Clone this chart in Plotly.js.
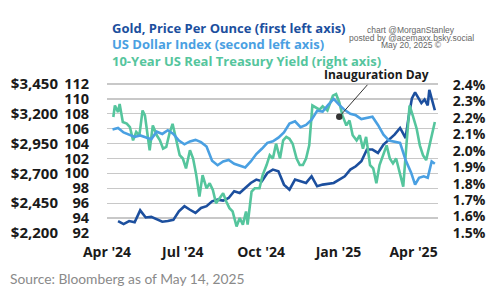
<!DOCTYPE html>
<html>
<head>
<meta charset="utf-8">
<script src="https://cdn.plot.ly/plotly-3.0.1.min.js"></script>
<style>html,body{margin:0;padding:0;background:#fff;}#chart{width:500px;height:293px;}</style>
</head>
<body>
<div id="chart"></div>
<script>
// ---- Data ----
const goldDates = ["2024-04-08","2024-04-15","2024-04-22","2024-04-29","2024-05-06","2024-05-13","2024-05-20","2024-05-27","2024-06-03","2024-06-10","2024-06-17","2024-06-24","2024-07-01","2024-07-08","2024-07-15","2024-07-22","2024-07-29","2024-08-05","2024-08-12","2024-08-19","2024-08-26","2024-09-02","2024-09-09","2024-09-16","2024-09-23","2024-09-30","2024-10-07","2024-10-14","2024-10-21","2024-10-28","2024-11-04","2024-11-11","2024-11-18","2024-11-25","2024-12-02","2024-12-09","2024-12-16","2024-12-23","2024-12-30","2025-01-06","2025-01-13","2025-01-20","2025-01-27","2025-02-03","2025-02-10","2025-02-17","2025-02-24","2025-03-03","2025-03-10","2025-03-17","2025-03-24","2025-03-31","2025-04-07","2025-04-11","2025-04-15","2025-04-19","2025-04-23","2025-04-27","2025-05-01","2025-05-05","2025-05-07","2025-05-11","2025-05-14"];
const goldPrice = [2300,2275,2300,2290,2390,2330,2335,2312,2295,2300,2310,2382,2425,2395,2368,2410,2425,2466,2480,2472,2494,2550,2536,2578,2620,2648,2634,2704,2732,2718,2606,2564,2648,2634,2620,2676,2592,2606,2615,2620,2648,2676,2732,2760,2802,2900,2900,2872,2942,2984,3025,3081,2997,3180,3330,3380,3330,3290,3320,3270,3400,3290,3230];

const dxyDates = ["2024-04-01","2024-04-08","2024-04-15","2024-04-22","2024-04-29","2024-05-06","2024-05-13","2024-05-20","2024-05-27","2024-06-03","2024-06-10","2024-06-17","2024-06-24","2024-07-01","2024-07-08","2024-07-15","2024-07-22","2024-07-29","2024-08-05","2024-08-12","2024-08-19","2024-08-26","2024-09-02","2024-09-09","2024-09-16","2024-09-23","2024-09-30","2024-10-07","2024-10-14","2024-10-21","2024-10-28","2024-11-04","2024-11-11","2024-11-18","2024-11-25","2024-12-02","2024-12-09","2024-12-16","2024-12-23","2024-12-30","2025-01-06","2025-01-13","2025-01-20","2025-01-27","2025-02-03","2025-02-10","2025-02-17","2025-02-24","2025-03-03","2025-03-10","2025-03-17","2025-03-24","2025-03-31","2025-04-07","2025-04-14","2025-04-19","2025-04-24","2025-04-30","2025-05-05","2025-05-10","2025-05-14"];
const dxyIndex = [105.9,106.1,105.5,105.2,104.9,105.1,104.8,104.6,105.6,105.3,105.8,105.3,104.4,103.9,104.3,104.5,104.2,103.6,101.7,101.1,101.6,101.8,101.3,101.0,100.8,101.6,102.6,103.3,104.1,104.3,104.8,105.5,106.7,107.0,106.2,106.5,107.2,108.4,108.3,109.2,110.0,109.2,108.5,108.0,107.8,107.3,107.4,107.6,106.5,105.2,104.4,104.3,104.1,101.8,100.1,98.5,99.4,99.6,99.4,101.6,101.3];

const yieldDates = ["2024-04-02","2024-04-04","2024-04-08","2024-04-10","2024-04-14","2024-04-19","2024-04-23","2024-04-27","2024-05-01","2024-05-05","2024-05-09","2024-05-12","2024-05-16","2024-05-18","2024-05-22","2024-05-27","2024-05-31","2024-06-04","2024-06-08","2024-06-12","2024-06-16","2024-06-21","2024-06-25","2024-06-29","2024-07-03","2024-07-08","2024-07-12","2024-07-16","2024-07-20","2024-07-24","2024-07-29","2024-08-02","2024-08-06","2024-08-10","2024-08-15","2024-08-19","2024-08-23","2024-08-27","2024-08-31","2024-09-05","2024-09-09","2024-09-13","2024-09-17","2024-09-19","2024-09-24","2024-09-28","2024-10-04","2024-10-08","2024-10-13","2024-10-17","2024-10-21","2024-10-25","2024-10-30","2024-11-03","2024-11-07","2024-11-11","2024-11-15","2024-11-20","2024-11-24","2024-11-28","2024-12-02","2024-12-06","2024-12-10","2024-12-15","2024-12-19","2024-12-23","2024-12-29","2025-01-05","2025-01-09","2025-01-13","2025-01-17","2025-01-22","2025-01-26","2025-01-30","2025-02-04","2025-02-08","2025-02-12","2025-02-16","2025-02-21","2025-02-25","2025-03-01","2025-03-05","2025-03-09","2025-03-14","2025-03-18","2025-03-22","2025-03-26","2025-03-30","2025-04-04","2025-04-08","2025-04-12","2025-04-16","2025-04-21","2025-04-25","2025-04-29","2025-05-03","2025-05-07","2025-05-11","2025-05-14"];
const realYield = [2.205,2.275,2.235,2.285,2.175,2.165,2.144,2.063,2.114,2.094,2.245,2.215,2.073,2.003,2.154,2.094,2.063,2.013,2.023,2.104,2.164,2.063,1.973,1.953,1.893,2.003,1.953,1.852,1.722,1.852,1.772,1.802,1.762,1.681,1.712,1.742,1.691,1.651,1.631,1.540,1.591,1.551,1.631,1.551,1.752,1.772,1.772,1.852,1.913,1.973,1.953,2.043,1.953,2.063,2.084,2.073,2.043,1.953,1.913,1.913,1.953,2.033,2.275,2.260,2.250,2.270,2.245,2.335,2.345,2.295,2.215,2.154,2.184,2.094,2.063,2.094,2.013,2.084,1.913,1.893,1.802,1.913,1.963,2.033,1.953,1.923,1.953,1.873,1.782,2.033,2.275,2.215,2.134,2.033,1.973,1.943,2.033,2.114,2.175];

const dxyTicks = [92,94,96,98,100,102,104,106,108,110,112];
const goldTicks = [2200,2450,2700,2950,3200,3450];
const yieldTicks = [1.5,1.6,1.7,1.8,1.9,2.0,2.1,2.2,2.3,2.4];
const xTickDates = ["2024-03-25","2024-06-29","2024-10-06","2025-01-12","2025-04-17"];
const xTickText = ["Apr '24","Jul '24","Oct '24","Jan '25","Apr '25"];

// ---- Styles ----
const cGold = "#1c4f9e", cDxy = "#4aa0e2", cYld = "#55c59d";
const F = "Open Sans, Noto Sans, sans-serif";

const goldText = goldTicks.map(v => "$" + v.toLocaleString("en-US"));
const yieldText = yieldTicks.map(v => v.toFixed(1) + "%");
const dxyText = dxyTicks.map(v => String(v));
const dxyRange = [92, 112.27];

const traces = [
  {x: goldDates, y: goldPrice, yaxis: "y2", type: "scatter", mode: "lines", line: {color: cGold, width: 2.6}, name: "Gold"},
  {x: dxyDates, y: dxyIndex, yaxis: "y4", type: "scatter", mode: "lines", line: {color: cDxy, width: 2.6}, name: "DXY"},
  {x: yieldDates, y: realYield, yaxis: "y3", type: "scatter", mode: "lines", line: {color: cYld, width: 2.6}, name: "Real yield"}
];

// plot area: top 82px, bottom 233px (height 151); 112 / $3,450 / 2.4% sit at 84px
const layout = {
  width: 500, height: 293,
  margin: {l: 0, r: 0, t: 82, b: 60, pad: 0},
  paper_bgcolor: "#fff", plot_bgcolor: "#fff",
  showlegend: false,
  xaxis: {
    type: "date", domain: [0.214, 0.876],
    range: ["2024-03-25", "2025-05-18"],
    tickvals: xTickDates, ticktext: xTickText,
    showgrid: false, zeroline: false, showline: false,
    ticks: "outside", ticklen: 6, tickcolor: "rgba(0,0,0,0)",
    tickfont: {family: F, size: 14, color: "#1a1a1a", weight: 700}
  },
  // base axis (grid only)
  yaxis: {
    range: dxyRange, tickvals: dxyTicks, showticklabels: false,
    showgrid: true, gridcolor: "#c8c8c8", gridwidth: 1.3,
    zeroline: false, showline: false, ticks: ""
  },
  // US Dollar Index axis (second left axis)
  yaxis4: {
    overlaying: "y", anchor: "free", position: 0.178, side: "left",
    range: dxyRange, tickvals: dxyTicks, ticktext: dxyText, ticklabeloverflow: "allow",
    showgrid: false, zeroline: false, showline: false, ticks: "",
    tickfont: {family: F, size: 14.5, color: "#1a1a1a", weight: 700}
  },
  // Gold axis (first left axis)
  yaxis2: {
    overlaying: "y", anchor: "free", position: 0.116, side: "left",
    range: [2200, 3466.8], tickvals: goldTicks, ticktext: goldText, ticklabeloverflow: "allow",
    showgrid: false, zeroline: false, showline: false, ticks: "",
    tickfont: {family: F, size: 15, color: "#1a1a1a", weight: 700}
  },
  // Real yield axis (right)
  yaxis3: {
    overlaying: "y", anchor: "x", side: "right",
    range: [1.5, 2.418], tickvals: yieldTicks, ticktext: yieldText, ticklabeloverflow: "allow",
    showgrid: false, zeroline: false, showline: false,
    ticks: "outside", ticklen: 11, tickcolor: "rgba(0,0,0,0)",
    tickfont: {family: F, size: 14, color: "#1a1a1a", weight: 700}
  },
  annotations: [
    {xref: "paper", yref: "paper", x: 0.22, y: 1.358, xanchor: "left", yanchor: "middle", showarrow: false,
     text: "Gold, Price Per Ounce (first left axis)", font: {family: F, size: 13, color: cGold, weight: 700}},
    {xref: "paper", yref: "paper", x: 0.22, y: 1.252, xanchor: "left", yanchor: "middle", showarrow: false,
     text: "US Dollar Index (second left axis)", font: {family: F, size: 13, color: cDxy, weight: 700}},
    {xref: "paper", yref: "paper", x: 0.22, y: 1.139, xanchor: "left", yanchor: "middle", showarrow: false,
     text: "10-Year US Real Treasury Yield (right axis)", font: {family: F, size: 13, color: cYld, weight: 700}},
    {xref: "paper", yref: "paper", x: 0.822, y: 1.344, xanchor: "center", yanchor: "middle", showarrow: false,
     text: "chart @MorganStanley", font: {family: "Liberation Sans, Arial, sans-serif", size: 8.5, color: "#666"}},
    {xref: "paper", yref: "paper", x: 0.822, y: 1.291, xanchor: "center", yanchor: "middle", showarrow: false,
     text: "posted by @acemaxx.bsky.social", font: {family: "Liberation Sans, Arial, sans-serif", size: 8.5, color: "#666"}},
    {xref: "paper", yref: "paper", x: 0.822, y: 1.243, xanchor: "center", yanchor: "middle", showarrow: false,
     text: "May 20, 2025 ©", font: {family: "Liberation Sans, Arial, sans-serif", size: 8.5, color: "#666"}},
    {xref: "x", yref: "y", x: "2025-01-13", y: 107.6, text: "Inauguration Day",
     showarrow: true, arrowhead: 6, arrowsize: 1.6, arrowwidth: 1, arrowcolor: "#333",
     ax: 37, ay: -42, font: {family: F, size: 12, color: "#1a1a1a", weight: 700}},
    {xref: "paper", yref: "paper", x: 0.016, y: -0.304, xanchor: "left", yanchor: "middle", showarrow: false,
     text: "Source: Bloomberg as of May 14, 2025", font: {family: "Lato, Open Sans, sans-serif", size: 13.8, color: "#8a8a8a"}}
  ]
};

Plotly.newPlot("chart", traces, layout, {staticPlot: true, displayModeBar: false});
</script>
</body>
</html>
